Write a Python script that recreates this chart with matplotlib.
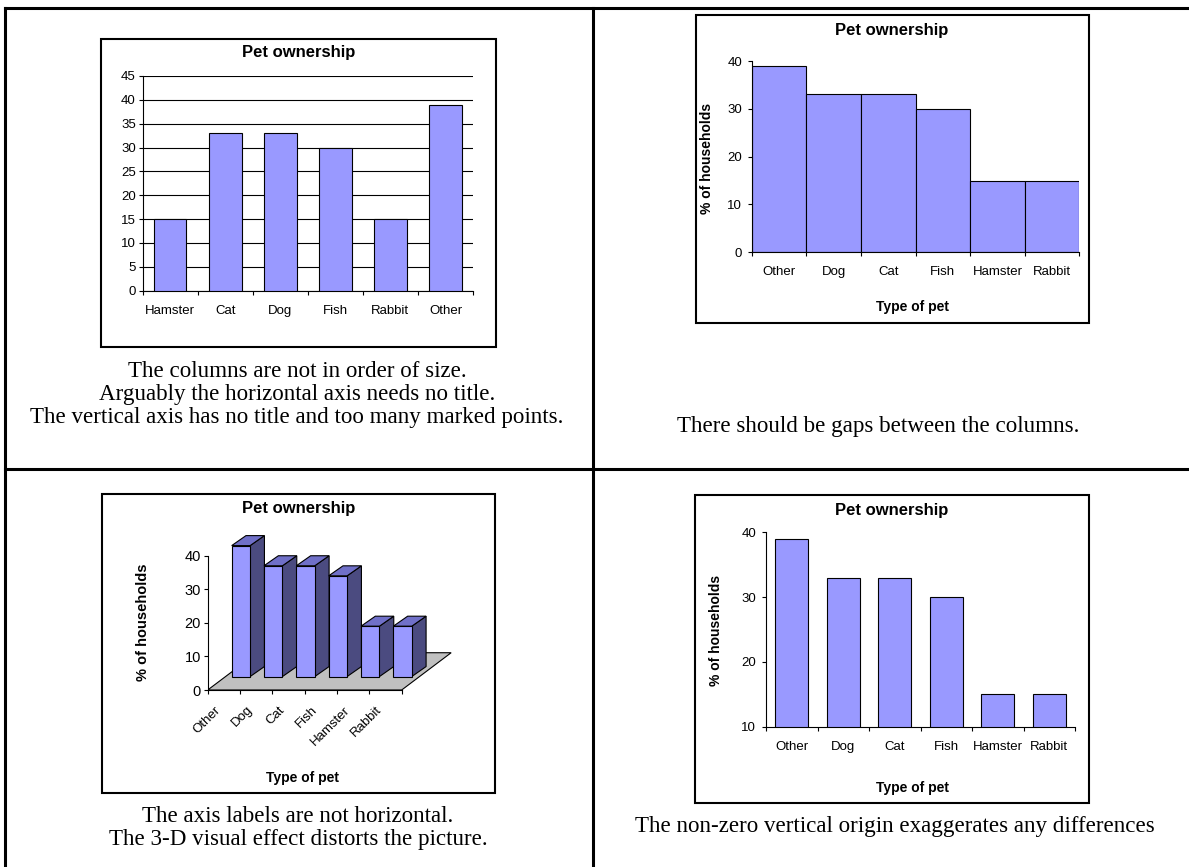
import matplotlib
matplotlib.use('Agg')
import matplotlib.pyplot as plt
from matplotlib.patches import Rectangle, Polygon
from matplotlib.lines import Line2D

plt.rcParams['font.family'] = 'Liberation Sans'

W, H = 1189, 867

# data
pets_orig = ['Hamster', 'Cat', 'Dog', 'Fish', 'Rabbit', 'Other']
share_orig = [15, 33, 33, 30, 15, 39]
pets_sorted = ['Other', 'Dog', 'Cat', 'Fish', 'Hamster', 'Rabbit']
share_sorted = [39, 33, 33, 30, 15, 15]

title = 'Pet ownership'
xlab = 'Type of pet'
ylab = '% of households'

cap_tl = ['The columns are not in order of size.',
          'Arguably the horizontal axis needs no title.',
          'The vertical axis has no title and too many marked points.']
cap_tr = ['There should be gaps between the columns.']
cap_bl = ['The axis labels are not horizontal.',
          'The 3-D visual effect distorts the picture.']
cap_br = ['The non-zero vertical origin exaggerates any differences']

BAR = '#9999ff'
TOP3D = '#7070c8'
SIDE3D = '#4b4b80'
FLOOR = '#c0c0c0'

fig = plt.figure(figsize=(W / 100, H / 100), dpi=100)


def px_axes(left, top, right, bottom):
    return fig.add_axes([left / W, 1 - bottom / H, (right - left) / W, (bottom - top) / H])


def ftext(x, y, s, **kw):
    return fig.text(x / W, 1 - y / H, s, **kw)


def fline(xs, ys, lw):
    fig.add_artist(Line2D([x / W for x in xs], [1 - y / H for y in ys],
                          color='black', lw=lw, transform=fig.transFigure))


def fbox(left, top, right, bottom):
    fig.add_artist(Rectangle((left / W, 1 - bottom / H), (right - left) / W, (bottom - top) / H,
                             transform=fig.transFigure, fill=False, ec='black', lw=1.5))


def cat_axis(ax, labels, pad=10):
    n = len(labels)
    ax.set_xlim(0, n)
    ax.set_xticks(range(n + 1))
    ax.set_xticklabels([])
    ax.set_xticks([i + 0.5 for i in range(n)], labels, minor=True)
    ax.tick_params(axis='x', which='major', direction='out', length=3, width=0.8)
    ax.tick_params(axis='x', which='minor', length=0, pad=pad, labelsize=9.5)
    ax.tick_params(axis='y', direction='out', length=3, width=0.8, labelsize=9.5, pad=2)
    for s in ['top', 'right']:
        ax.spines[s].set_visible(False)
    for s in ['left', 'bottom']:
        ax.spines[s].set_linewidth(0.8)


# table lines
fline([5, W], [8, 8], 2.2)
fline([5, 5], [8, H], 2.2)
fline([593, 593], [8, H], 2.2)
fline([5, W], [469, 469], 2.2)

# ---- top left: original order, gridlines
fbox(101, 39, 496, 347)
ax = px_axes(142.7, 76, 473, 290.7)
x = [i + 0.5 for i in range(len(pets_orig))]
ax.bar(x, share_orig, width=0.59, color=BAR, edgecolor='black', lw=0.8, zorder=3)
cat_axis(ax, pets_orig)
ax.set_ylim(0, 45)
ax.set_yticks(range(0, 46, 5))
ax.grid(axis='y', color='black', lw=0.8)
ax.set_axisbelow(True)
ftext(299, 53, title, ha='center', va='center', fontsize=12, fontweight='bold')

# ---- top right: no gaps
fbox(696, 15, 1089, 323)
ax = px_axes(751.7, 61, 1079.3, 252.3)
ax.bar(x, share_sorted, width=1.0, color=BAR, edgecolor='black', lw=0.8)
cat_axis(ax, pets_sorted)
ax.set_ylim(0, 40)
ax.set_yticks(range(0, 41, 10))
ax.tick_params(axis='y', pad=4)
ftext(892, 31, title, ha='center', va='center', fontsize=12, fontweight='bold')
ftext(912, 307, xlab, ha='center', va='center', fontsize=10, fontweight='bold')
ftext(707, 158, ylab, ha='center', va='center', rotation=90, fontsize=10, fontweight='bold')

# ---- bottom right: non-zero origin
fbox(695, 495, 1089, 803)
ax = px_axes(766, 532.3, 1075, 726.7)
ax.bar(x, share_sorted, width=0.65, color=BAR, edgecolor='black', lw=0.8)
cat_axis(ax, pets_sorted)
ax.set_ylim(10, 40)
ax.set_yticks(range(10, 41, 10))
ax.tick_params(axis='y', pad=4)
ftext(892, 510, title, ha='center', va='center', fontsize=12, fontweight='bold')
ftext(912, 788, xlab, ha='center', va='center', fontsize=10, fontweight='bold')
ftext(716, 630, ylab, ha='center', va='center', rotation=90, fontsize=10, fontweight='bold')

# ---- bottom left: pseudo 3-D columns
fbox(102, 494, 495, 793)
ux, uy = 32.33, 3.358  # pixels per category / per unit
ax = px_axes(207.7, 690 - 50 * uy, 207.7 + 8 * ux, 690)
ax.set_xlim(0, 8)
ax.set_ylim(0, 50)
n = len(pets_sorted)
fdx, fdy = 1.53, 11.1      # floor depth
sx, sy = 0.527, 4.0        # bar plane offset
bdx, bdy = 0.443, 2.98     # bar depth
bw = 0.57
ax.add_patch(Polygon([(0, 0), (n, 0), (n + fdx, fdy), (fdx, fdy)], closed=True,
                     fc=FLOOR, ec='black', lw=0.8, zorder=1))
for i, v in enumerate(share_sorted):
    x0 = i + (1 - bw) / 2 + sx
    x1 = x0 + bw
    y0, y1 = sy, sy + v
    ax.add_patch(Polygon([(x1, y0), (x1 + bdx, y0 + bdy), (x1 + bdx, y1 + bdy), (x1, y1)],
                         closed=True, fc=SIDE3D, ec='black', lw=0.8, zorder=2 + i))
    ax.add_patch(Polygon([(x0, y1), (x1, y1), (x1 + bdx, y1 + bdy), (x0 + bdx, y1 + bdy)],
                         closed=True, fc=TOP3D, ec='black', lw=0.8, zorder=2 + i))
    ax.add_patch(Rectangle((x0, y0), bw, v, fc=BAR, ec='black', lw=0.8, zorder=2 + i))
for s in ['top', 'right']:
    ax.spines[s].set_visible(False)
ax.spines['left'].set_bounds(0, 40)
ax.spines['bottom'].set_bounds(0, n)
ax.spines['left'].set_linewidth(0.8)
ax.spines['bottom'].set_linewidth(0.8)
ax.spines['left'].set_zorder(20)
ax.set_yticks(range(0, 41, 10))
ax.set_xticks(range(n + 1))
ax.set_xticklabels([])
ax.tick_params(axis='both', direction='out', length=3, width=0.8, labelsize=10.5, pad=2)
for i, lab in enumerate(pets_sorted):
    ax.annotate(lab, (i + 0.5, 0), xytext=(-4, -13), textcoords='offset points',
                ha='right', va='center', rotation=45, rotation_mode='anchor', fontsize=9.5)
ftext(299, 509, title, ha='center', va='center', fontsize=12, fontweight='bold')
ftext(302, 778, xlab, ha='center', va='center', fontsize=10, fontweight='bold')
ftext(143, 622, ylab, ha='center', va='center', rotation=90, fontsize=10.5, fontweight='bold')

# ---- captions
serif = dict(ha='center', va='baseline', fontsize=16.6, family='Liberation Serif')
for s, yy in zip(cap_tl, [376.7, 400, 422.7]):
    ftext(297, yy, s, **serif)
ftext(878, 431.7, cap_tr[0], **serif)
for s, yy in zip(cap_bl, [821.7, 845]):
    ftext(298, yy, s, **serif)
ftext(895, 831.7, cap_br[0], **serif)

fig.savefig('out.png', dpi=100)
